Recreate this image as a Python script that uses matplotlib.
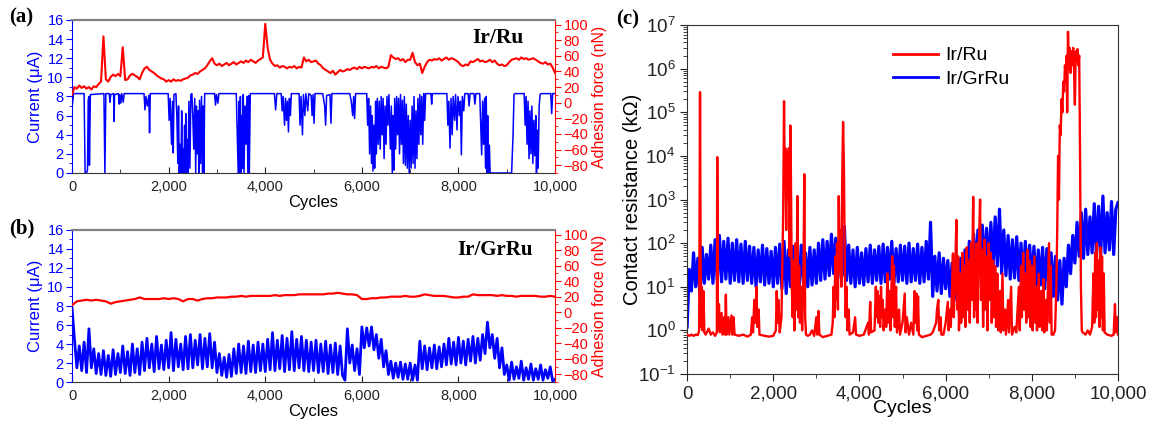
import matplotlib
matplotlib.use("Agg")
import matplotlib.pyplot as plt
import numpy as np
from matplotlib.ticker import MultipleLocator, FuncFormatter, LogLocator, NullFormatter, FixedLocator

plt.rcParams['font.family'] = ['Liberation Sans', 'DejaVu Sans']
plt.rcParams['mathtext.fontset'] = 'custom'
plt.rcParams['mathtext.rm'] = 'Liberation Sans'
plt.rcParams['mathtext.it'] = 'Liberation Sans'

# ---------------- data ----------------
cyc50 = list(range(0, 10001, 50))
cyc100 = list(range(0, 10001, 100))

# (a) Ir/Ru adhesion force (nN), every 50 cycles
adh_a = [10, 20, 18, 22, 19, 21, 18, 20, 17, 21,
         20, 24, 27, 85, 30, 27, 33, 36, 34, 37,
         34, 71, 29, 30, 35, 37, 35, 33, 30, 38,
         44, 46, 42, 40, 38, 35, 33, 31, 30, 27,
         29, 27, 30, 28, 29, 28, 30, 31, 32, 35,
         36, 38, 37, 40, 42, 44, 48, 53, 57, 50,
         48, 50, 47, 49, 51, 48, 50, 52, 49, 51,
         53, 51, 54, 52, 55, 53, 51, 54, 56, 58,
         101, 70, 55, 50, 47, 48, 45, 47, 46, 44,
         46, 45, 47, 44, 46, 45, 58, 53, 55, 52,
         53, 54, 50, 48, 44, 42, 40, 38, 41, 36,
         39, 42, 40, 41, 43, 42, 44, 45, 43, 46,
         44, 46, 45, 44, 46, 45, 47, 44, 46, 45,
         44, 46, 61, 58, 56, 57, 54, 56, 52, 55,
         55, 64, 52, 48, 50, 38, 46, 52, 55, 54,
         56, 55, 57, 54, 56, 58, 55, 57, 56, 54,
         52, 48, 47, 49, 48, 53, 52, 54, 56, 53,
         54, 52, 53, 55, 52, 54, 50, 48, 49, 47,
         48, 52, 55, 56, 57, 55, 58, 56, 57, 55,
         56, 57, 55, 53, 51, 50, 52, 49, 50, 45,
         38]

# (a) Ir/Ru current (uA), read at irregular cycle positions
cur_a_cyc = [0, 30, 250, 270, 300, 320, 335, 350, 360, 380, 660, 680, 700, 770, 785, 800, 860, 870, 880,
             960, 975, 990, 1010, 1030, 1060, 1080, 1490, 1510, 1530, 1560, 1590, 1605, 1620, 1990, 2010,
             2030, 2060, 2080, 2095, 2110, 2150, 2170, 2190, 2205, 2220, 2240, 2255, 2270, 2285, 2300,
             2315, 2330, 2345, 2355, 2370, 2385, 2400, 2420, 2440, 2460, 2480, 2500, 2520, 2540, 2560,
             2575, 2590, 2610, 2625, 2640, 2660, 2680, 2700, 2715, 2730, 2745, 2950, 2970, 2990, 3020,
             3040, 3400, 3420, 3440, 3455, 3470, 3485, 3500, 3515, 3530, 3545, 3560, 3580, 3600, 3620,
             3640, 3655, 3670, 3690, 4190, 4215, 4240, 4330, 4350, 4370, 4400, 4420, 4440, 4460, 4480,
             4500, 4520, 4540, 4700, 4720, 4740, 4770, 4790, 4820, 4840, 4880, 4900, 4950, 4970, 4990,
             5010, 5030, 5190, 5230, 5250, 5270, 5340, 5360, 5380, 5750, 5780, 5810, 5830, 5850, 5870,
             6100, 6120, 6140, 6160, 6180, 6200, 6215, 6230, 6250, 6265, 6285, 6300, 6320, 6340, 6360,
             6380, 6400, 6420, 6440, 6460, 6480, 6500, 6520, 6540, 6560, 6590, 6610, 6630, 6645, 6660,
             6680, 6700, 6720, 6740, 6760, 6780, 6800, 6820, 6840, 6860, 6880, 6900, 6920, 6940, 6960,
             6980, 7000, 7020, 7040, 7060, 7080, 7100, 7120, 7140, 7160, 7180, 7200, 7220, 7240, 7260,
             7280, 7300, 7320, 7430, 7445, 7460, 7760, 7780, 7800, 7825, 7845, 7870, 7890, 7920, 7940,
             7970, 7990, 8020, 8040, 8060, 8080, 8110, 8130, 8200, 8220, 8240, 8320, 8340, 8360, 8440,
             8460, 8480, 8500, 8520, 8540, 8560, 8575, 8590, 8605, 8620, 8640, 8655, 8700, 9100, 9130,
             9150, 9170, 9360, 9380, 9400, 9420, 9440, 9460, 9480, 9500, 9520, 9540, 9560, 9580, 9600,
             9615, 9630, 9650, 9670, 9690, 9710, 9910, 9930, 9950, 10000]
cur_a_val = [6.8, 8.3, 8.3, 0, 0, 0.3, 7.6, 8.0, 0.8, 8.2, 8.3, 0, 8.3, 8.3, 7.4, 8.2, 8.3, 5.4, 8.2,
             8.3, 7.2, 8.2, 7.3, 8.3, 7.4, 8.3, 8.3, 6.6, 8.0, 7.0, 8.1, 4.2, 8.3, 8.3, 5.5,
             7.8, 3.0, 7.5, 2.1, 8.2, 8.3, 6.0, 1.0, 7.0, 0, 3.0, 0, 6.5, 0, 2.5,
             0, 5.0, 0, 6.2, 0, 3.5, 0, 7.5, 0.5, 8.2, 8.3, 6.0, 2.5, 7.8, 0,
             7.0, 2.0, 6.5, 0, 7.6, 1.0, 8.0, 0, 7.0, 0, 8.3, 8.3, 7.1, 8.2, 7.3,
             8.3, 8.3, 4.0, 0, 7.5, 0, 8.0, 0, 6.0, 0.5, 8.2, 0, 7.0, 3.0, 8.0,
             0, 8.1, 0, 8.3, 8.3, 6.6, 8.3, 8.3, 6.5, 8.0, 5.0, 7.8, 5.5, 7.5, 4.3,
             7.8, 6.0, 8.3, 8.3, 5.0, 8.0, 4.0, 8.2, 6.0, 8.3, 6.5, 8.3, 8.1, 6.0, 8.2,
             5.2, 8.3, 8.3, 7.0, 5.0, 8.1, 8.2, 5.2, 8.3, 8.3, 7.5, 6.0, 8.0, 5.7, 8.3,
             8.3, 5.0, 7.8, 2.0, 7.0, 1.0, 6.0, 0.2, 5.0, 0.5, 7.5, 2.0, 7.8, 3.0, 7.5,
             2.5, 8.0, 4.0, 7.8, 1.5, 7.0, 3.0, 8.0, 5.0, 8.2, 2.5, 7.0, 0, 6.0, 0.3,
             7.8, 2.5, 8.0, 4.0, 7.8, 2.0, 8.2, 3.0, 7.6, 1.0, 8.0, 0.8, 7.2, 0.5, 6.0,
             0, 5.5, 0.5, 7.0, 1.0, 8.0, 0.5, 6.5, 1.5, 7.8, 3.0, 8.2, 4.0, 8.0, 3.0,
             8.3, 5.5, 8.3, 8.3, 7.2, 8.3, 8.3, 5.0, 7.5, 2.6, 7.8, 4.0, 8.0, 5.5, 8.2,
             4.5, 8.0, 6.0, 7.5, 1.9, 8.0, 6.5, 8.3, 8.3, 7.0, 8.3, 8.3, 7.2, 8.3, 8.3,
             5.0, 1.9, 7.5, 3.0, 7.8, 0.5, 8.0, 0, 6.0, 0, 2.9, 0, 0, 0, 4.0,
             8.2, 8.3, 8.3, 5.0, 8.0, 3.0, 7.5, 1.5, 6.5, 2.0, 7.0, 1.0, 5.5, 1.8, 6.0,
             0, 4.5, 0.5, 7.0, 8.2, 8.3, 8.3, 6.2, 8.3, 8.3]

# (b) Ir/GrRu adhesion force (nN), every 100 cycles
adh_b = [9, 14, 15, 16, 15, 16, 15, 14, 11, 13,
         14, 15, 16, 17, 19, 17, 17, 17, 17, 18,
         17, 18, 17, 14, 17, 17, 15, 17, 18, 18,
         19, 19, 19, 20, 20, 21, 20, 21, 21, 21,
         21, 21, 22, 21, 22, 22, 22, 23, 23, 23,
         23, 23, 23, 24, 24, 25, 24, 23, 23, 22,
         17, 17, 18, 18, 19, 19, 20, 20, 20, 21,
         20, 20, 21, 23, 22, 21, 21, 21, 20, 19,
         19, 20, 20, 23, 22, 22, 22, 22, 21, 22,
         21, 21, 20, 21, 21, 21, 21, 20, 20, 21, 20]

# (b) Ir/GrRu current (uA), every 50 cycles
cur_b = [7.8, 4.5, 1.5, 3.8, 1.2, 4.2, 1.0, 5.6, 1.5, 3.5,
         0.9, 3.0, 0.8, 3.3, 0.7, 2.8, 0.6, 3.4, 0.8, 3.0,
         1.0, 3.8, 0.9, 3.2, 0.7, 4.0, 1.0, 3.5, 0.8, 4.2,
         1.2, 4.6, 1.5, 4.0, 1.1, 4.8, 1.4, 3.9, 1.3, 4.4,
         1.5, 5.2, 1.2, 4.5, 1.6, 4.0, 1.3, 4.8, 1.4, 5.0,
         1.5, 4.4, 1.8, 5.0, 1.4, 4.6, 1.6, 5.1, 1.5, 4.2,
         1.0, 3.0, 0.7, 2.6, 0.5, 2.9, 0.6, 3.5, 0.9, 4.0,
         1.0, 3.8, 0.9, 4.3, 1.1, 3.9, 1.0, 4.2, 1.2, 4.0,
         1.1, 4.5, 1.3, 5.2, 1.2, 4.4, 1.4, 4.9, 1.1, 4.6,
         1.3, 5.3, 1.2, 4.5, 1.5, 4.8, 1.2, 4.4, 1.1, 4.2,
         1.2, 4.4, 1.0, 4.0, 1.1, 4.3, 0.9, 3.9, 1.0, 4.1,
         0.8, 3.8, 0.7, 0.2, 5.6, 2.0, 3.9, 1.2, 3.5, 0.8,
         5.8, 3.6, 5.7, 3.8, 5.8, 3.4, 5.0, 2.5, 4.5, 1.6,
         3.3, 0.8, 2.2, 0.4, 2.0, 0.5, 2.1, 0.3, 1.9, 0.3,
         2.0, 0.2, 1.8, 0.2, 4.3, 1.4, 3.8, 1.3, 3.6, 1.5,
         3.9, 1.4, 3.7, 1.6, 4.0, 1.8, 4.6, 1.9, 4.2, 1.8,
         4.7, 2.0, 4.3, 1.8, 4.5, 2.2, 4.8, 2.0, 4.6, 2.3,
         5.0, 3.0, 6.3, 3.6, 5.0, 2.5, 4.6, 1.5, 3.6, 0.8,
         1.8, 0.2, 2.1, 0.3, 1.6, 0.4, 2.2, 0.2, 1.5, 0.3,
         1.9, 0.2, 1.4, 0.3, 1.8, 0.2, 1.3, 0.4, 1.6, 0.1,
         0.3]

# (c) Ir/GrRu contact resistance (kOhm), every 50 cycles
res_grru = [1.2, 25, 8, 60, 10, 45, 6, 80, 12, 55,
            15, 90, 12, 120, 14, 150, 13, 110, 15, 130,
            12, 100, 14, 120, 13, 95, 12, 110, 14, 85,
            12, 80, 10, 70, 13, 90, 11, 75, 12, 65,
            10, 80, 12, 95, 9, 110, 7, 70, 10, 85,
            8, 75, 10, 90, 12, 60, 10, 80, 11, 70,
            12, 100, 14, 120, 15, 110, 18, 160, 20, 130,
            16, 150, 18, 240, 14, 90, 12, 70, 10, 80,
            12, 60, 11, 75, 13, 90, 12, 70, 14, 85,
            12, 95, 13, 80, 15, 110, 12, 75, 13, 90,
            14, 85, 12, 100, 13, 75, 14, 95, 12, 80,
            13, 110, 15, 300, 6, 50, 8, 60, 7, 45,
            9, 40, 6, 35, 5, 30, 7, 45, 10, 70,
            14, 110, 18, 160, 22, 200, 20, 260, 25, 220,
            24, 300, 28, 400, 30, 600, 20, 200, 18, 150,
            15, 120, 16, 140, 14, 100, 13, 110, 12, 90,
            12, 85, 10, 70, 11, 80, 9, 75, 10, 60,
            6, 50, 5, 40, 4, 45, 10, 90, 20, 150,
            35, 300, 50, 500, 45, 600, 55, 400, 60, 800,
            50, 700, 55, 1200, 60, 500, 70, 900, 55, 600,
            850]

# (c) Ir/Ru contact resistance (kOhm), irregular cycle positions
res_ru_cyc = [0, 50, 100, 150, 200, 250, 280, 300, 320, 340, 360, 380, 400, 430, 500, 550, 600, 650, 690,
              700, 715, 740, 760, 800, 820, 860, 880, 900, 915, 960, 980, 1030, 1050, 1080, 1100, 1200,
              1300, 1400, 1480, 1510, 1530, 1560, 1580, 1610, 1630, 1660, 1680, 1800, 1900, 2000, 2060,
              2080, 2100, 2120, 2150, 2190, 2210, 2230, 2250, 2265, 2280, 2300, 2320, 2340, 2360, 2380,
              2395, 2410, 2430, 2450, 2470, 2490, 2520, 2540, 2560, 2580, 2600, 2620, 2650, 2670, 2700,
              2720, 2740, 2760, 2800, 2850, 2900, 2950, 3000, 3020, 3050, 3070, 3150, 3250, 3350, 3380,
              3400, 3420, 3440, 3460, 3480, 3500, 3520, 3540, 3560, 3580, 3600, 3620, 3640, 3660, 3680,
              3700, 3720, 3750, 3770, 3850, 3900, 3920, 4000, 4100, 4200, 4220, 4250, 4270, 4350, 4380,
              4400, 4420, 4440, 4460, 4480, 4500, 4520, 4540, 4560, 4600, 4620, 4650, 4670, 4700, 4720,
              4760, 4780, 4800, 4820, 4850, 4870, 4920, 4940, 5000, 5050, 5070, 5100, 5150, 5200, 5250,
              5280, 5300, 5320, 5340, 5360, 5380, 5450, 5550, 5650, 5700, 5780, 5800, 5830, 5850, 5880,
              5900, 5950, 6000, 6050, 6070, 6100, 6120, 6150, 6170, 6190, 6220, 6250, 6270, 6290, 6310,
              6340, 6360, 6390, 6410, 6440, 6460, 6490, 6510, 6540, 6560, 6590, 6610, 6640, 6660, 6680,
              6700, 6720, 6740, 6770, 6800, 6820, 6850, 6870, 6900, 6920, 6950, 6970, 7000, 7020, 7050,
              7070, 7100, 7120, 7150, 7170, 7200, 7220, 7260, 7280, 7320, 7340, 7380, 7400, 7450, 7470,
              7520, 7540, 7600, 7640, 7700, 7720, 7750, 7770, 7800, 7820, 7850, 7870, 7900, 7920, 7950,
              7970, 8000, 8020, 8060, 8080, 8100, 8120, 8160, 8180, 8220, 8240, 8270, 8290, 8330, 8350,
              8400, 8420, 8440, 8460, 8500, 8540, 8570, 8590, 8610, 8630, 8650, 8670, 8690, 8710, 8730,
              8750, 8770, 8790, 8810, 8820, 8840, 8860, 8880, 8900, 8920, 8940, 8960, 8980, 9000, 9020,
              9040, 9060, 9080, 9100, 9120, 9140, 9160, 9180, 9250, 9300, 9350, 9400, 9430, 9450, 9470,
              9490, 9510, 9530, 9550, 9570, 9590, 9610, 9630, 9650, 9670, 9690, 9750, 9850, 9900, 9930,
              9950, 9980, 10000]
res_ru_val = [0.8, 0.75, 0.8, 0.75, 0.8, 0.78, 1.0, 2.9e5, 1.2, 10, 1.0, 8, 0.9, 0.8, 1.1, 0.8, 0.9, 0.75, 0.9,
              9.4e3, 1.0, 4, 0.9, 2.5, 0.8, 2.0, 0.8, 6.6, 0.8, 2.0, 0.8, 2.2, 0.8, 2.0, 0.8, 0.75,
              0.8, 0.72, 0.8, 2.0, 0.9, 5, 1.5, 10, 1.2, 3, 0.8, 0.75, 0.72, 0.75, 1.0,
              8, 1.5, 5, 0.9, 2.0, 30, 500, 1.8e5, 2000, 1.5e4, 200, 1.2e4, 1000, 1.5e4, 50,
              5e4, 3000, 10, 2, 40, 1.0, 100, 3, 1.2e3, 2, 30, 1.5, 10, 1.0, 20,
              3.8e3, 2, 0.8, 0.75, 0.8, 1.0, 0.75, 2.0, 0.8, 2.8, 0.8, 0.7, 0.75, 0.8, 1.5,
              10, 2, 50, 5, 100, 3, 1.2e3, 20, 200, 10, 3000, 6e4, 5000, 30, 2,
              10, 1.0, 3, 0.8, 0.9, 2, 0.8, 0.75, 0.8, 1.5, 0.8, 4.5, 0.9, 1.0, 10,
              2, 8, 1.5, 6, 1.2, 10, 2, 5, 1.0, 3, 1.2, 20, 1.5, 8, 1.0,
              50, 2, 30, 1.2, 10, 0.9, 3, 0.8, 1.5, 7, 0.9, 2, 0.8, 1.5, 0.8,
              8, 1.5, 7, 1, 6, 0.8, 0.7, 0.75, 0.8, 0.9, 1.5, 3, 5, 1.0, 2,
              0.8, 0.8, 1.5, 4.5, 1.0, 3, 1.2, 10, 58, 2, 20, 340, 3, 50, 1.0,
              20, 1.5, 60, 2, 30, 1.2, 80, 3, 40, 1.5, 100, 5, 1150, 2, 60,
              3, 100, 1.5, 80, 1000, 5, 70, 1.2, 120, 3, 50, 1.0, 100, 5, 60,
              1.5, 40, 2, 30, 1.2, 20, 1.0, 8, 0.9, 20, 1.0, 3, 0.8, 5, 0.9,
              10, 0.8, 1.2, 0.9, 10, 1.0, 30, 2, 60, 3, 20, 1.5, 70, 2, 40,
              1.2, 30, 1.0, 50, 1.5, 10, 1.0, 20, 1.2, 8, 1.0, 15, 0.9, 5, 1.0,
              100, 1.5, 30, 0.8, 0.8, 1.0, 10, 200, 1e4, 1e3, 5e4, 3e4, 2e5, 1e5, 5e5,
              3e5, 1.2e6, 5e5, 2e6, 1e5, 7e6, 1e6, 3e6, 8e5, 2.5e6, 1.2e6, 3e6, 1e6, 1.5e5, 2.5e6,
              1.5e6, 2.8e6, 1.2e6, 2e6, 1e4, 10, 1.0, 0.9, 0.8, 1.0, 0.8, 1.2, 20, 1.5, 60,
              2, 100, 3, 40, 1.2, 80, 2, 50, 1.0, 20, 0.9, 0.8, 0.75, 0.8, 4,
              0.9, 2, 0.8]

x_ticks = [0, 2000, 4000, 6000, 8000, 10000]
res_ticks = [1e-1, 1e0, 1e1, 1e2, 1e3, 1e4, 1e5, 1e6, 1e7]

# ---------------- figure ----------------
BLUE = '#0000ff'
RED = '#ff0000'
fig = plt.figure(figsize=(11.49, 4.25), dpi=100)

comma = FuncFormatter(lambda v, p: f"{int(round(v)):,}")


def style_dual(ax, ax2):
    ax.set_xlim(0, 10000)
    ax.set_ylim(0, 16)
    ax2.set_ylim(-90, 106)
    ax.set_xticks(x_ticks)
    ax.xaxis.set_minor_locator(MultipleLocator(1000))
    ax.xaxis.set_major_formatter(comma)
    ax.yaxis.set_major_locator(MultipleLocator(2))
    ax.yaxis.set_minor_locator(MultipleLocator(1))
    ax2.set_yticks(list(range(-80, 101, 20)))
    ax2.yaxis.set_minor_locator(MultipleLocator(10))
    ax.tick_params(axis='x', which='major', direction='in', length=4, labelsize=10.5,
                   colors='#222222', pad=5)
    ax.tick_params(axis='x', which='minor', direction='in', length=3, colors='#222222')
    ax.tick_params(axis='y', which='major', direction='out', length=4, labelsize=10.5,
                   colors=BLUE, pad=2)
    ax.tick_params(axis='y', which='minor', direction='out', length=2.5, colors=BLUE)
    ax2.tick_params(axis='y', which='major', direction='out', length=4, labelsize=10.5,
                    colors=RED, pad=2)
    ax2.tick_params(axis='y', which='minor', direction='out', length=2.5, colors=RED)
    ax.spines['left'].set_color(BLUE)
    ax2.spines['left'].set_visible(False)
    ax.spines['right'].set_visible(False)
    ax2.spines['right'].set_color(RED)
    ax2.spines['top'].set_color('#808080')
    ax2.spines['top'].set_linewidth(1.6)
    ax.spines['top'].set_visible(False)
    ax2.spines['bottom'].set_visible(False)
    ax.spines['bottom'].set_color('#333333')
    ax.set_xlabel('Cycles', fontsize=12, labelpad=1)
    ax.set_ylabel('Current (\u03bcA)', color=BLUE, fontsize=12, labelpad=3)
    ax2.set_ylabel('Adhesion force (nN)', color=RED, fontsize=11.5, labelpad=3)


# panel (a)
axa = fig.add_axes([0.0627, 0.593, 0.4204, 0.360])
axa2 = axa.twinx()
axa.plot(cur_a_cyc, cur_a_val, color=BLUE, lw=1.1)
axa2.plot(cyc50, adh_a, color=RED, lw=1.5)
style_dual(axa, axa2)
axa2.text(0.882, 0.882, 'Ir/Ru', transform=axa2.transAxes, ha='center', va='center',
          fontsize=15.5, fontweight='bold', family='Liberation Serif')

# panel (b)
axb = fig.add_axes([0.0627, 0.101, 0.4204, 0.358])
axb2 = axb.twinx()
axb.plot(cyc50, cur_b, color=BLUE, lw=2.0)
axb2.plot(cyc100, adh_b, color=RED, lw=1.6)
style_dual(axb, axb2)
axb2.text(0.876, 0.868, 'Ir/GrRu', transform=axb2.transAxes, ha='center', va='center',
          fontsize=15, fontweight='bold', family='Liberation Serif')

# panel (c)
axc = fig.add_axes([0.598, 0.120, 0.375, 0.821])
axc.plot(cyc50, res_grru, color=BLUE, lw=2.3, label='Ir/GrRu', zorder=2)
axc.plot(res_ru_cyc, res_ru_val, color=RED, lw=1.7, label='Ir/Ru', zorder=3)
axc.set_yscale('log')
axc.set_ylim(0.1, 1e7)
axc.set_xlim(0, 10000)
axc.set_xticks(x_ticks)
axc.xaxis.set_minor_locator(MultipleLocator(1000))
axc.xaxis.set_major_formatter(comma)
axc.yaxis.set_major_locator(FixedLocator(res_ticks))
axc.yaxis.set_minor_locator(LogLocator(base=10, subs=np.arange(2, 10), numticks=20))
axc.yaxis.set_minor_formatter(NullFormatter())
axc.tick_params(axis='both', which='major', direction='out', length=5, labelsize=13.5,
                colors='#222222')
axc.tick_params(axis='both', which='minor', direction='out', length=3, colors='#222222')
for s in axc.spines.values():
    s.set_color('#333333')
axc.set_xlabel('Cycles', fontsize=14, labelpad=-2)
axc.set_ylabel('Contact resistance (k\u03a9)', fontsize=14.5, labelpad=-3)
handles, labels = axc.get_legend_handles_labels()
leg = axc.legend(handles[::-1], labels[::-1], loc='upper left', bbox_to_anchor=(0.46, 0.96),
                 frameon=False, fontsize=14, handlelength=2.3, handletextpad=0.4,
                 labelspacing=0.3, borderaxespad=0)
for h in leg.get_lines():
    h.set_linewidth(2.0)

# panel letters
fig.text(0.008, 0.958, '(a)', fontsize=15, fontweight='bold', family='Liberation Serif', va='center')
fig.text(0.008, 0.462, '(b)', fontsize=15, fontweight='bold', family='Liberation Serif', va='center')
fig.text(0.536, 0.953, '(c)', fontsize=15, fontweight='bold', family='Liberation Serif', va='center')

fig.savefig('out.png', dpi=100)
